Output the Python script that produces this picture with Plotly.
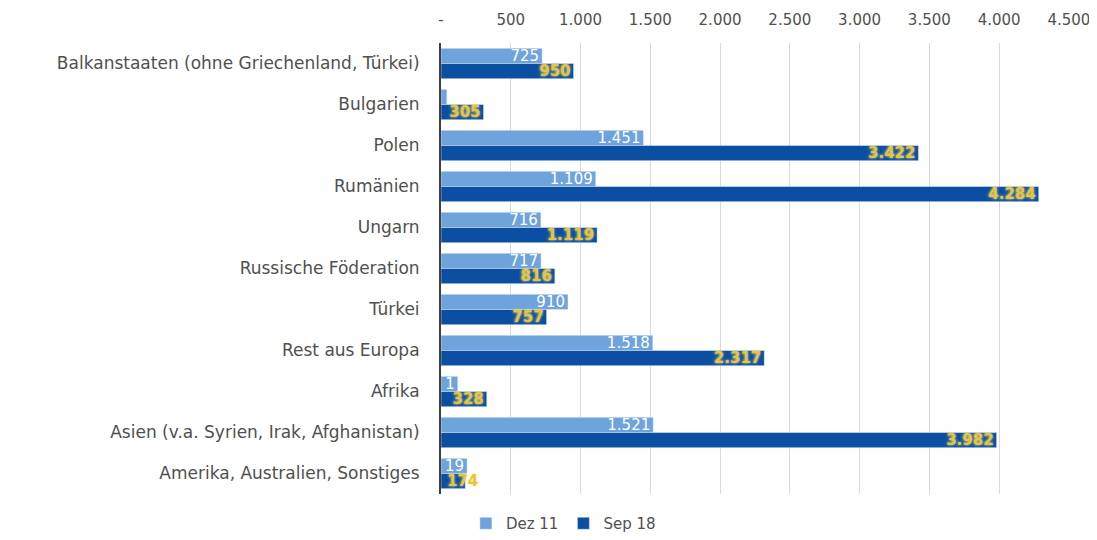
import plotly.graph_objects as go

categories = [
    "Balkanstaaten (ohne Griechenland, Türkei)",
    "Bulgarien",
    "Polen",
    "Rumänien",
    "Ungarn",
    "Russische Föderation",
    "Türkei",
    "Rest aus Europa",
    "Afrika",
    "Asien (v.a. Syrien, Irak, Afghanistan)",
    "Amerika, Australien, Sonstiges",
]
dez11 = [725, 42, 1451, 1109, 716, 717, 910, 1518, 120, 1521, 187]
sep18 = [950, 305, 3422, 4284, 1119, 816, 757, 2317, 328, 3982, 174]
# labels as visible in the reference (text clipped by very short bars)
dez11_labels = ["725", "", "1.451", "1.109", "716", "717", "910", "1.518", "1", "1.521", "19"]
sep18_labels = ["950", "305", "3.422", "4.284", "1.119", "816", "757", "2.317", "328", "3.982", "174"]
tick_vals = [0, 500, 1000, 1500, 2000, 2500, 3000, 3500, 4000, 4500]
tick_text = ["-", "500", "1.000", "1.500", "2.000", "2.500", "3.000", "3.500", "4.000", "4.500"]

FONT = "'DejaVu Sans', sans-serif"
GREY = "#505050"
GOLD = "#e8c43a"
GOLD_FONT = dict(color=GOLD, size=15, family=FONT, weight="bold", shadow="0px 0px 3px #f3e58a")

# the last Sep 18 label overflows its short bar, starting at the bar's base
bar_text_sep = [t if v > 250 else "" for t, v in zip(sep18_labels, sep18)]

fig = go.Figure()
fig.add_trace(go.Bar(
    y=categories, x=dez11, orientation="h", name="Dez 11",
    marker=dict(color="#6fa3dc"),
    text=dez11_labels, textposition="inside", insidetextanchor="end", textangle=0,
    constraintext="none", cliponaxis=False,
    textfont=dict(color="white", size=15, family=FONT),
))
fig.add_trace(go.Bar(
    y=categories, x=sep18, orientation="h", name="Sep 18",
    marker=dict(color="#0b4ea2"),
    text=bar_text_sep, textposition="inside", insidetextanchor="end", textangle=0,
    constraintext="none", cliponaxis=False,
    textfont=GOLD_FONT,
))
for cat, v, t in zip(categories, sep18, sep18_labels):
    if v <= 250:
        fig.add_annotation(x=0, y=cat, text=t, showarrow=False, xanchor="left",
                           yanchor="middle", xshift=4, yshift=-7.6, font=GOLD_FONT)

fig.update_layout(
    width=1089, height=532,
    margin=dict(l=433, r=28, t=35, b=46),
    paper_bgcolor="white", plot_bgcolor="white",
    barmode="group", bargap=0.26, bargroupgap=0,
    font=dict(family=FONT, size=16, color=GREY),
    legend=dict(orientation="h", xref="container", yref="container",
                x=0.51, xanchor="center", y=0.0, yanchor="bottom",
                traceorder="normal", font=dict(size=15, color=GREY)),
    xaxis=dict(side="top", range=[0, 4501], tickvals=tick_vals, ticktext=tick_text,
               showgrid=True, gridcolor="#d9d9d9", gridwidth=1, zeroline=False,
               ticklabelstandoff=14, automargin=False,
               tickfont=dict(size=15, color=GREY), fixedrange=True),
    yaxis=dict(autorange="reversed", showline=True, linecolor="#404040", linewidth=2,
               ticklabelstandoff=16, tickfont=dict(size=17, color=GREY),
               showgrid=False, automargin=False),
)
fig.write_html("out.html")
